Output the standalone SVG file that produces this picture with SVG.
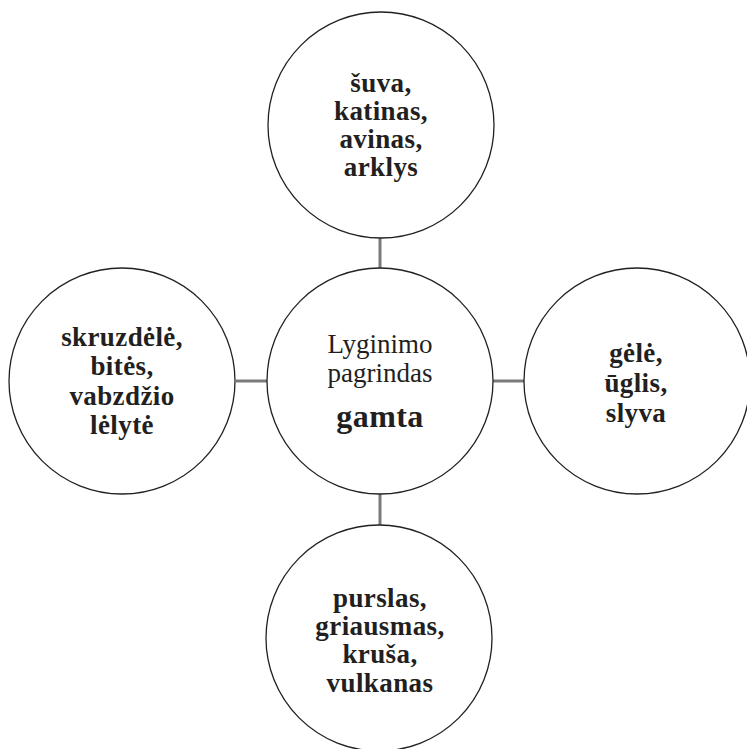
<svg xmlns="http://www.w3.org/2000/svg" width="747" height="749" viewBox="0 0 747 749">
<style>
.c{fill:#fff;stroke:#231f20;stroke-width:1.3}
.l{stroke:#7a7a7a;stroke-width:3;fill:none}
.b{font-family:"Liberation Serif","Times New Roman",serif;font-weight:bold;font-size:27px;letter-spacing:0.4px;fill:#231f20;text-anchor:middle}
.r{font-family:"Liberation Serif","Times New Roman",serif;font-size:27px;fill:#231f20;text-anchor:middle}
</style>
<rect width="747" height="749" fill="#fff"/>
<g id="connectors">
<line class="l" x1="380" y1="238" x2="380" y2="268"/>
<line class="l" x1="236" y1="381" x2="267" y2="381"/>
<line class="l" x1="493" y1="381" x2="524" y2="381"/>
<line class="l" x1="380" y1="494" x2="380" y2="525"/>
</g>
<g id="center">
<circle class="c" cx="380" cy="381" r="113"/>
<text class="r" x="380" y="353">Lyginimo</text>
<text class="r" x="380" y="382">pagrindas</text>
<text class="b" x="380" y="427" style="font-size:32px">gamta</text>
</g>
<g id="top">
<circle class="c" cx="381" cy="125" r="113"/>
<text class="b" x="381" y="92">šuva,</text>
<text class="b" x="381" y="120">katinas,</text>
<text class="b" x="381" y="148">avinas,</text>
<text class="b" x="381" y="176">arklys</text>
</g>
<g id="left">
<circle class="c" cx="122" cy="381" r="113"/>
<text class="b" x="122" y="346">skruzdėlė,</text>
<text class="b" x="122" y="375">bitės,</text>
<text class="b" x="122" y="405">vabzdžio</text>
<text class="b" x="122" y="434">lėlytė</text>
</g>
<g id="right">
<circle class="c" cx="637" cy="381" r="113"/>
<text class="b" x="636" y="362">gėlė,</text>
<text class="b" x="636" y="392">ūglis,</text>
<text class="b" x="636" y="422">slyva</text>
</g>
<g id="bottom">
<circle class="c" cx="379" cy="638" r="113"/>
<text class="b" x="380" y="607">purslas,</text>
<text class="b" x="380" y="635">griausmas,</text>
<text class="b" x="380" y="663">kruša,</text>
<text class="b" x="380" y="692">vulkanas</text>
</g>
</svg>
